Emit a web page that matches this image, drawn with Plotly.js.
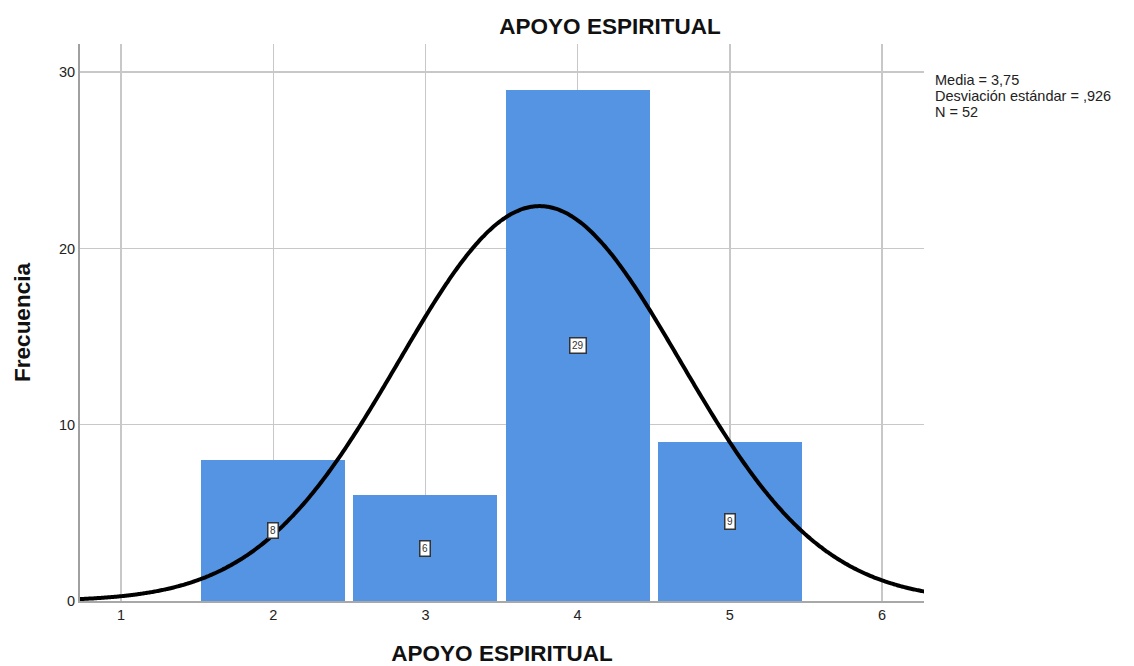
<!DOCTYPE html>
<html>
<head>
<meta charset="utf-8">
<script src="https://cdn.plot.ly/plotly-3.0.1.min.js"></script>
<style>html,body{margin:0;padding:0;background:#fff;}#chart{width:1134px;height:666px;}</style>
</head>
<body>
<div id="chart"></div>
<script>
const categories = [2, 3, 4, 5];
const frequencies = [8, 6, 29, 9];
const barLabels = ["8", "6", "29", "9"];
const statMean = 3.75;
const statSd = 0.926;
const statN = 52;
const statLines = ["Media = 3,75", "Desviación estándar = ,926", "N = 52"];
const xTicks = [1, 2, 3, 4, 5, 6];
const yTicks = [0, 10, 20, 30];

// Fitted normal curve (SPSS-style overlay) from the stated mean, sd and N, bin width 1
const curveX = [];
const curveY = [];
for (let i = 0; i <= 400; i++) {
  const x = 0.72 + (6.28 - 0.72) * i / 400;
  curveX.push(x);
  curveY.push(statN * Math.exp(-0.5 * Math.pow((x - statMean) / statSd, 2)) / (statSd * Math.sqrt(2 * Math.PI)));
}

const font = "Liberation Sans, Arial, sans-serif";

const bars = {
  type: 'bar', x: categories, y: frequencies, width: 0.946,
  marker: {color: '#5594e3', line: {width: 0}},
  hoverinfo: 'skip', showlegend: false
};
const curve = {
  type: 'scatter', mode: 'lines', x: curveX, y: curveY,
  line: {color: '#000', width: 4, simplify: false, shape: 'spline'}, hoverinfo: 'skip', showlegend: false
};

const annotations = categories.map((c, i) => ({
  x: c, y: frequencies[i] / 2, xref: 'x', yref: 'y', text: barLabels[i], showarrow: false,
  font: {family: font, size: 10, color: '#333'}, bgcolor: '#fff', bordercolor: '#333', borderwidth: 1.5, borderpad: 1.5
}));
statLines.forEach((t, i) => {
  annotations.push({
    xref: 'paper', yref: 'paper', x: 1.011, y: 1 - (80 + 16 * i - 44) / 557, xanchor: 'left', yanchor: 'middle', align: 'left',
    showarrow: false, text: t, font: {family: font, size: 14.5, color: '#222'}
  });
});

const layout = {
  width: 1134, height: 666,
  margin: {l: 80, r: 210, t: 44, b: 65},
  paper_bgcolor: '#fff', plot_bgcolor: '#fff',
  title: {text: '<b>APOYO ESPIRITUAL</b>', x: 610 / 1134, xanchor: 'center', y: 1 - 26 / 666, yanchor: 'middle',
          font: {family: font, size: 22.5, color: '#111'}},
  xaxis: {
    range: [0.73, 6.276], tickvals: xTicks, ticktext: xTicks.map(String),
    showgrid: true, gridcolor: '#c8c8c8', gridwidth: 1.5, zeroline: false,
    showline: true, linecolor: '#a8a8a8', linewidth: 1.5, ticks: '',
    tickfont: {family: font, size: 14.5, color: '#222'},
    title: {text: '<b>APOYO ESPIRITUAL</b>', font: {family: font, size: 22.5, color: '#111'}, standoff: 27}
  },
  yaxis: {
    range: [0, 31.6], tickvals: yTicks, ticktext: yTicks.map(String),
    showgrid: true, gridcolor: '#c8c8c8', gridwidth: 1.5, zeroline: false,
    showline: true, linecolor: '#a0a0a0', linewidth: 2, ticks: '',
    tickfont: {family: font, size: 14.5, color: '#222'},
    title: {text: '<b>Frecuencia</b>', font: {family: font, size: 22.5, color: '#111'}, standoff: 22}
  },
  annotations: annotations,
  bargap: 0
};

Plotly.newPlot('chart', [bars, curve], layout, {staticPlot: true, displayModeBar: false});
</script>
</body>
</html>
